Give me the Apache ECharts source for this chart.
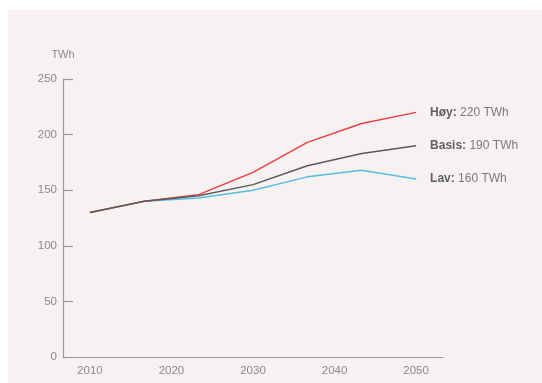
<!DOCTYPE html>
<html><head><meta charset="utf-8">
<script src="https://cdn.jsdelivr.net/npm/echarts@6/dist/echarts.min.js"></script>
<style>html,body{margin:0;padding:0;background:#fff}#c{width:542px;height:383px}</style>
</head><body><div id="c"></div>
<script>
const years = [2010, 2016.67, 2023.33, 2030, 2036.67, 2043.33, 2050];
const hoy   = [130, 140, 146, 166, 193, 210, 220];
const basis = [130, 140, 145, 155, 172, 183, 190];
const lav   = [null, 140, 143, 150, 162, 168, 160];
const xTickLabels = [2010, 2020, 2030, 2040, 2050];
const seriesNames = ['Høy', 'Basis', 'Lav'];
const endValues = ['220 TWh', '190 TWh', '160 TWh'];

const chart = echarts.init(document.getElementById('c'), null, {renderer: 'canvas'});
const font = 'Helvetica, "Liberation Sans", Arial, sans-serif';
function mk(name, vals, color, endTxt, z) {
  return {
    name, type: 'line', z,
    data: years.map((y, i) => [y, vals[i]]),
    symbol: 'none',
    lineStyle: {color, width: 1.5},
    itemStyle: {color},
    endLabel: {
      show: true, distance: 14,
      formatter: () => '{b|' + name + ':} {n|' + endTxt + '}',
      rich: {
        b: {fontFamily: font, fontSize: 12, fontWeight: 'bold', color: '#5f5f5f'},
        n: {fontFamily: font, fontSize: 12, color: '#7a7a7a'}
      }
    }
  };
}
chart.setOption({
  backgroundColor: '#ffffff',
  animation: false,
  graphic: [{type: 'rect', z: -10, shape: {x: 8, y: 10, width: 540, height: 380}, style: {fill: '#f6f2f1'}}],
  grid: {left: 63, right: 99, top: 79, bottom: 26},
  xAxis: {
    type: 'value', min: 2006.7, max: 2053.3,
    splitLine: {show: false},
    axisLine: {lineStyle: {color: '#9a9a9a', width: 1.2}},
    axisTick: {show: false},
    axisLabel: {customValues: xTickLabels, color: '#8a8a8a', fontFamily: font, fontSize: 11.5, margin: 8,
      formatter: v => String(Math.round(v))}
  },
  yAxis: {
    type: 'value', min: 0, max: 250, interval: 50,
    name: 'TWh', nameLocation: 'end', nameGap: 19,
    nameTextStyle: {color: '#8a8a8a', fontFamily: font, fontSize: 11, align: 'center'},
    splitLine: {show: false},
    axisLine: {show: true, lineStyle: {color: '#9a9a9a', width: 1.2}},
    axisTick: {show: true, inside: true, length: 10, lineStyle: {color: '#9a9a9a', width: 1.2}},
    axisLabel: {color: '#8a8a8a', fontFamily: font, fontSize: 11.5, margin: 6}
  },
  series: [
    mk(seriesNames[0], hoy, '#ec3d45', endValues[0], 3),
    mk(seriesNames[2], lav, '#55bde2', endValues[2], 2),
    mk(seriesNames[1], basis, '#5a5a5a', endValues[1], 4)
  ]
});
</script></body></html>
